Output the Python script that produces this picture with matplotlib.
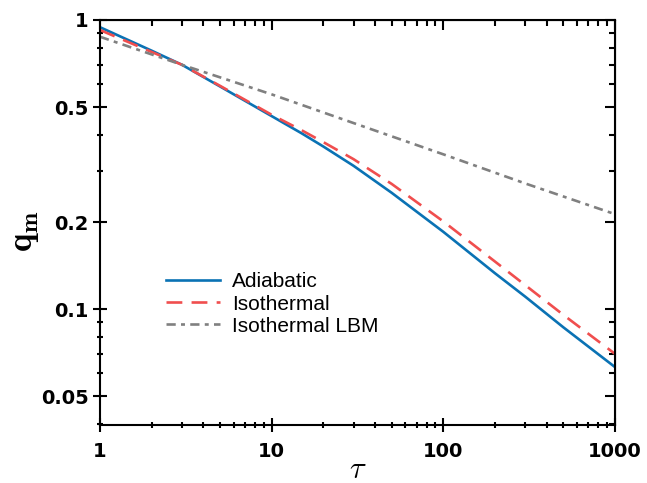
import numpy as np
import matplotlib
matplotlib.use("Agg")
import matplotlib.pyplot as plt
from matplotlib.ticker import FixedLocator, NullFormatter

# Data
tau_adi = [1, 2, 3, 5, 10, 15, 20, 30, 50, 100, 200, 300, 500, 1000]
q_adi = [0.944, 0.783, 0.70, 0.589, 0.465, 0.405, 0.365, 0.313, 0.2525, 0.185, 0.133, 0.1104, 0.0865, 0.063]

tau_iso = [1, 2, 3, 5, 10, 15, 20, 30, 50, 100, 200, 300, 500, 1000]
q_iso = [0.923, 0.775, 0.70, 0.592, 0.47, 0.415, 0.378, 0.33, 0.271, 0.201, 0.146, 0.121, 0.0955, 0.070]

tau_lbm = [1, 3, 10, 30, 100, 300, 1000]
q_lbm = [0.875, 0.70, 0.553, 0.44, 0.343, 0.272, 0.213]

x_major = [1, 10, 100, 1000]
x_labels = ["1", "10", "100", "1000"]
y_major = [0.05, 0.1, 0.2, 0.5, 1]
y_labels = ["0.05", "0.1", "0.2", "0.5", "1"]
y_minor = [0.04, 0.06, 0.07, 0.08, 0.09, 0.3, 0.4, 0.6, 0.7, 0.8, 0.9]

plt.rcParams["mathtext.fontset"] = "cm"

fig = plt.figure(figsize=(6.47, 4.83), dpi=100)
ax = fig.add_axes([0.1546, 0.12, 0.7959, 0.8386])

ax.plot(tau_adi, q_adi, color="#0a72b4", lw=1.9, label="Adiabatic")
ax.plot(tau_iso, q_iso, color="#f04e4e", lw=1.9, dashes=(6, 3.5), label="Isothermal")
ax.plot(tau_lbm, q_lbm, color="#808080", lw=1.9, dashes=(3.5, 2, 1.5, 2), label="Isothermal LBM")

ax.set_xscale("log")
ax.set_yscale("log")
ax.set_xlim(1, 1000)
ax.set_ylim(0.0397, 1)

ax.xaxis.set_major_locator(FixedLocator(x_major))
ax.set_xticklabels(x_labels)
ax.yaxis.set_major_locator(FixedLocator(y_major))
ax.set_yticklabels(y_labels)
ax.yaxis.set_minor_locator(FixedLocator(y_minor))
ax.yaxis.set_minor_formatter(NullFormatter())
ax.xaxis.set_minor_formatter(NullFormatter())

for lab in ax.get_xticklabels() + ax.get_yticklabels():
    lab.set_fontfamily("DejaVu Sans")
    lab.set_fontweight("bold")
    lab.set_fontsize(14)

ax.tick_params(which="major", direction="inout", length=10, width=1.5)
ax.tick_params(axis="x", which="major", pad=7)
ax.tick_params(axis="y", which="major", pad=3)
ax.tick_params(which="minor", direction="inout", length=5, width=1.5)
for s in ax.spines.values():
    s.set_linewidth(1.5)

# top / right ticks pointing inward, no labels
top = ax.secondary_xaxis("top")
top.xaxis.set_major_locator(FixedLocator(x_major))
top.tick_params(which="major", direction="in", length=7, width=1.5, labeltop=False)
top.tick_params(which="minor", direction="in", length=4, width=1.5)
top.xaxis.set_minor_formatter(NullFormatter())
right = ax.secondary_yaxis("right")
right.yaxis.set_major_locator(FixedLocator(y_major))
right.yaxis.set_minor_locator(FixedLocator(y_minor))
right.tick_params(which="major", direction="in", length=7, width=1.5, labelright=False)
right.tick_params(which="minor", direction="in", length=4, width=1.5)
right.yaxis.set_minor_formatter(NullFormatter())

ax.set_xlabel(r"$\tau$", fontsize=22)
ax.xaxis.set_label_coords(0.5, -0.075)
ax.set_ylabel(r"$\mathbf{q_m}$", fontsize=25)
ax.yaxis.set_label_coords(-0.115, 0.48)

ax.legend(loc="lower left", bbox_to_anchor=(0.111, 0.2), borderaxespad=0,
          frameon=False, prop={"family": "Liberation Sans", "size": 15},
          handlelength=2.6, handletextpad=0.6, labelspacing=0.15)

fig.savefig("out.png", dpi=100)
